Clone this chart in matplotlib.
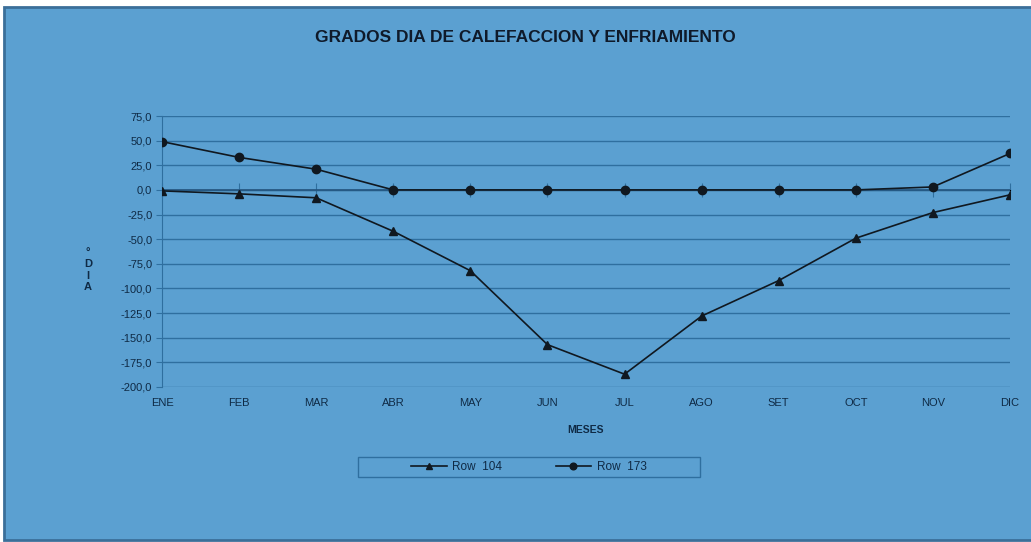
import numpy as np
import matplotlib.pyplot as plt
from matplotlib.patches import Rectangle
from matplotlib.ticker import FuncFormatter

plt.rcParams['font.family'] = ['Liberation Sans', 'DejaVu Sans']

meses = ['ENE', 'FEB', 'MAR', 'ABR', 'MAY', 'JUN', 'JUL', 'AGO', 'SET', 'OCT', 'NOV', 'DIC']
row_104 = [-1, -4, -8, -42, -82, -157, -187, -128, -92, -49, -23, -5]
row_173 = [49, 33, 21, 0, 0, 0, 0, 0, 0, 0, 3, 37]
yticks = np.arange(-200, 76, 25)

bg = '#5ba0d1'
grid = '#2f6f9f'

fig = plt.figure(figsize=(10.31, 5.42), dpi=100, facecolor='white')
# chart area with border
fig.patches.append(Rectangle((4 / 1031, 2 / 542), 1.0, 533 / 542, transform=fig.transFigure,
                             facecolor=bg, edgecolor='#3b6f99', linewidth=2, zorder=-1))
# legend box
fig.patches.append(Rectangle((358 / 1031, 1 - 477 / 542), 342 / 1031, 20 / 542,
                             transform=fig.transFigure, facecolor=bg, edgecolor=grid,
                             linewidth=1, zorder=0))

ax = fig.add_axes([162 / 1031, 1 - 387 / 542, (1010 - 162) / 1031, (387 - 116) / 542])
ax.set_facecolor(bg)
x = np.arange(len(meses))

ax.plot(x, row_104, color='#101820', lw=1.2, marker='^', ms=6, label='Row  104', zorder=3)
ax.plot(x, row_173, color='#101820', lw=1.2, marker='o', ms=6, label='Row  173', zorder=3)

ax.set_xlim(0, 11)
ax.set_ylim(-200, 75)
ax.set_yticks(yticks)
ax.yaxis.set_major_formatter(FuncFormatter(lambda v, p: f'{v:.1f}'.replace('.', ',')))
ax.grid(axis='y', color=grid, lw=1)
ax.set_axisbelow(True)
for s in ['top', 'right', 'bottom']:
    ax.spines[s].set_visible(False)
ax.spines['left'].set_color(grid)
ax.axhline(0, color='#24557f', lw=1.2, zorder=2)

ax.set_xticks(x)
ax.set_xticklabels(meses)
ax.tick_params(axis='x', length=0, pad=8, labelsize=8, labelcolor='#0f2a45')
ax.tick_params(axis='y', length=4, color=grid, labelsize=8, labelcolor='#0f2a45', pad=3)

sec = ax.secondary_xaxis(200 / 275)
sec.set_xticks(x)
sec.set_xticklabels([])
sec.tick_params(direction='inout', length=10, color=grid)
sec.spines['bottom'].set_visible(False)

ax.set_xlabel('MESES', fontsize=7.5, fontweight='bold', color='#0f2a45', labelpad=12)
fig.text(88 / 1031, 1 - 270 / 542, '°\nD\nI\nA', ha='center', va='center', fontsize=8,
         fontweight='bold', color='#0f2a45', linespacing=1.2)

fig.text(525 / 1031, 1 - 37 / 542, 'GRADOS DIA DE CALEFACCION Y ENFRIAMIENTO', ha='center',
         va='center', fontsize=12.5, fontweight='bold', color='#0f1a2a')

leg = fig.legend(loc='center', bbox_to_anchor=(529 / 1031, 1 - 467 / 542), ncol=2,
                 frameon=False, fontsize=8.5, handlelength=3, handletextpad=0.5,
                 columnspacing=4.5, markerscale=0.8)
for t in leg.get_texts():
    t.set_color('#0f2a45')

fig.savefig('out.png', dpi=100, facecolor='white')
